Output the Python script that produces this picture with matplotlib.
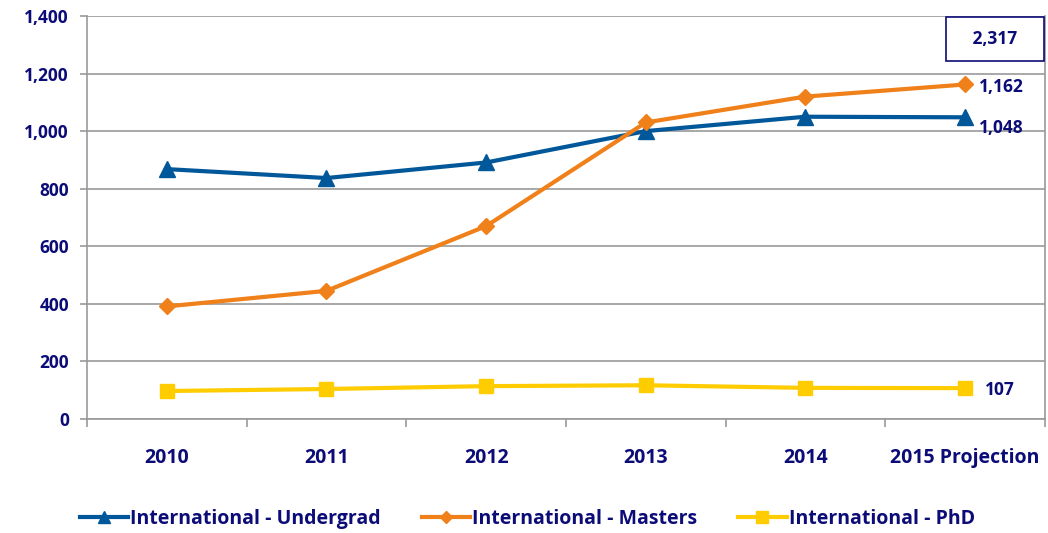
import numpy as np
import matplotlib
matplotlib.use("Agg")
import matplotlib.pyplot as plt

plt.rcParams["font.family"] = ["Open Sans", "DejaVu Sans"]
plt.rcParams["font.weight"] = "bold"

#%% data
years = ["2010", "2011", "2012", "2013", "2014", "2015 Projection"]
undergrad = [868, 837, 891, 1000, 1050, 1048]
masters = [391, 445, 670, 1030, 1120, 1162]
phd = [97, 104, 114, 117, 108, 107]
total_label = "2,317"

navy = "#0c0c78"
c_ug = "#00589a"
c_ma = "#f08019"
c_phd = "#ffcc00"
fs = 12.5
fs_txt = 14

#%% plot
fig = plt.figure(figsize=(10.48, 5.33), dpi=100)
ax = fig.add_axes([0.083, 0.214, 0.914, 0.756])

x = np.arange(len(years))
ax.plot(x, undergrad, '-', color=c_ug, lw=3, marker='^', markersize=11, label='International - Undergrad')
ax.plot(x, masters, '-', color=c_ma, lw=3, marker='D', markersize=8, label='International - Masters')
ax.plot(x, phd, '-', color=c_phd, lw=3, marker='s', markersize=10, label='International - PhD')

ax.set_xlim(-0.5, 5.5)
ax.set_ylim(0, 1400)
ax.set_yticks(np.arange(0, 1401, 200))
ax.set_yticklabels([f"{v:,}" for v in range(0, 1401, 200)], fontweight='bold')
ax.yaxis.grid(True, color="#999999", lw=1.2)
ax.set_axisbelow(True)
ax.tick_params(axis='y', length=5, color="#999999", width=1.2, labelsize=fs, labelcolor=navy, pad=8)

ax.set_xticks(np.arange(-0.5, 5.6, 1))
ax.set_xticklabels([])
ax.set_xticks(x, minor=True)
ax.set_xticklabels(years, minor=True, fontweight='bold')
ax.tick_params(axis='x', which='major', length=6, color="#999999", width=1.2)
ax.tick_params(axis='x', which='minor', length=0, labelsize=fs_txt, labelcolor=navy, pad=21)

for s in ax.spines.values():
    s.set_color("#999999")
    s.set_linewidth(1.2)
ax.spines['top'].set_visible(False)

# end labels
ax.annotate(f"{masters[-1]:,}", (x[-1], masters[-1]), xytext=(10, -2), textcoords='offset points',
            va='center', ha='left', fontsize=fs, color=navy, fontweight='bold')
ax.annotate(f"{undergrad[-1]:,}", (x[-1], undergrad[-1]), xytext=(10, -8), textcoords='offset points',
            va='center', ha='left', fontsize=fs, color=navy, fontweight='bold')
ax.annotate(f"{phd[-1]:,}", (x[-1], phd[-1]), xytext=(14, -1), textcoords='offset points',
            va='center', ha='left', fontsize=fs, color=navy, fontweight='bold')
ax.text(0.948, 0.944, "   " + total_label + "   ", transform=ax.transAxes, ha='center', va='center',
        fontsize=fs, color=navy, fontweight='bold',
        bbox=dict(boxstyle='square,pad=0.75', fc='white', ec=navy, lw=1.2))

fig.legend(loc='center', bbox_to_anchor=(0.503, 0.027), ncol=3, frameon=False,
           labelcolor=navy, handlelength=2.5, columnspacing=2.1, handletextpad=0.1, markerscale=0.8,
           prop=dict(weight='bold', size=fs_txt))

fig.savefig("out.png", dpi=100)
